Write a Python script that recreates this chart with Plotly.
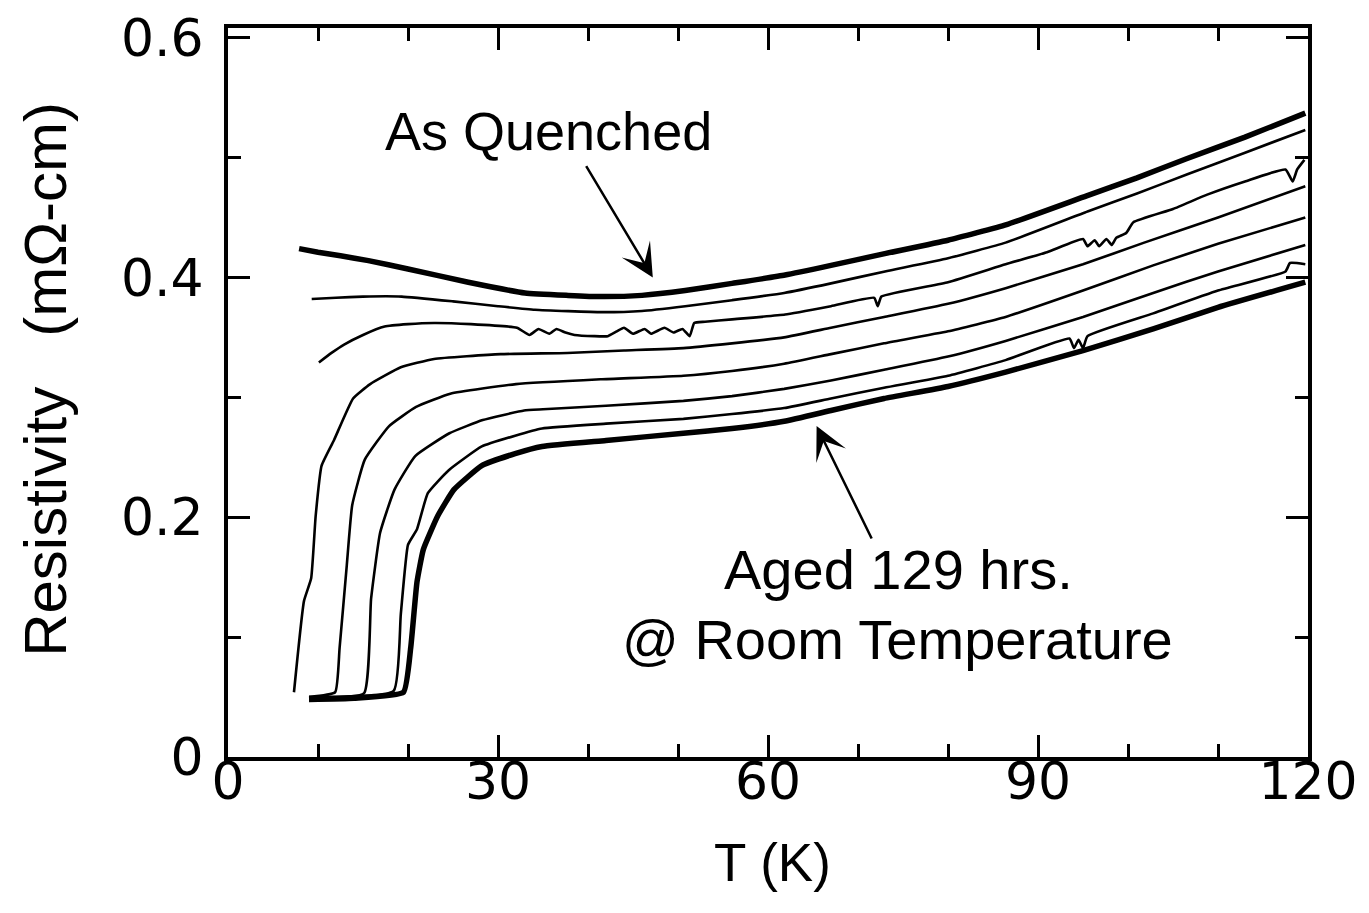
import plotly.graph_objects as go

# ---- data (T in K, resistivity in mOhm-cm) ----
T1 = [7.9, 10, 12.5, 15.6, 20, 26.7, 33.0, 37.8, 41.5, 46, 50.8, 56, 61.9, 67, 73.1, 80, 86.5, 95.4, 101, 106.5, 113, 119.7]
R1 = [0.424, 0.421, 0.418, 0.414, 0.407, 0.396, 0.387, 0.385, 0.384, 0.385, 0.389, 0.395, 0.402, 0.410, 0.420, 0.431, 0.444, 0.468, 0.483, 0.499, 0.517, 0.537]

T2 = [9.3, 12, 15, 19.3, 25, 30, 34.1, 41.5, 46, 50.8, 56, 61.8, 67, 73.0, 80, 86.4, 95.5, 101, 106.6, 113, 119.7]
R2 = [0.382, 0.383, 0.384, 0.384, 0.380, 0.376, 0.373, 0.371, 0.372, 0.376, 0.381, 0.387, 0.395, 0.405, 0.416, 0.429, 0.455, 0.470, 0.486, 0.504, 0.523]

T3 = [10.1, 11.5, 12.9, 15, 17.4, 20, 22.9, 27, 32.1, 33.5, 34.5, 35.7, 36.5, 37.5, 38.5, 40.7, 42.2,
      43.2, 44.0, 45, 46.3, 47, 48.5, 49.5, 50.5, 51.3, 51.8, 53, 56, 61.9, 67, 71.8, 72.2, 72.6, 80,
      86.4, 91, 95.0, 95.5, 96.3, 96.8, 97.6, 98.2, 98.7, 99.8, 100.6, 105, 108.8, 113, 117.5, 118.3, 118.8, 119.6]
R3 = [0.329, 0.337, 0.344, 0.352, 0.359, 0.361, 0.362, 0.361, 0.358, 0.352, 0.357, 0.353, 0.357, 0.354, 0.352, 0.351, 0.351,
      0.355, 0.358, 0.353, 0.357, 0.353, 0.358, 0.354, 0.357, 0.351, 0.362, 0.363, 0.365, 0.369, 0.376, 0.383, 0.376, 0.384, 0.396,
      0.411, 0.421, 0.432, 0.426, 0.431, 0.426, 0.432, 0.427, 0.433, 0.437, 0.446, 0.457, 0.469, 0.480, 0.490, 0.480, 0.490, 0.498]

T4 = [7.33, 8.44, 9.24, 9.74, 10.4, 11.76, 13.9, 15.8, 19.2, 22.9, 30.3, 37.7, 44, 50.6, 56, 61.8, 67, 72.9, 80, 86.4, 95, 101.8, 110, 119.7]
R4 = [0.054, 0.130, 0.149, 0.201, 0.243, 0.264, 0.299, 0.311, 0.325, 0.332, 0.336, 0.337, 0.339, 0.341, 0.345, 0.350, 0.358, 0.367, 0.378, 0.391, 0.411, 0.429, 0.450, 0.476]

T5 = [9.0, 11.9, 12.4, 13.2, 13.8, 15.2, 17.9, 20.9, 24.7, 32.0, 41.4, 50.6, 56, 61.8, 67, 72.9, 80, 86.4, 95, 102.8, 110, 119.7]
R5 = [0.050, 0.054, 0.091, 0.160, 0.210, 0.248, 0.276, 0.292, 0.303, 0.311, 0.315, 0.318, 0.322, 0.328, 0.336, 0.345, 0.355, 0.367, 0.389, 0.410, 0.428, 0.450]

T6 = [9.0, 15.1, 15.9, 16.9, 18.5, 20.8, 24.6, 28.3, 32.9, 35.0, 42, 50.6, 56, 61.8, 67, 72.9, 80, 86.4, 95, 102.8, 110, 119.7]
R6 = [0.050, 0.053, 0.132, 0.187, 0.223, 0.251, 0.270, 0.281, 0.289, 0.290, 0.293, 0.297, 0.301, 0.307, 0.314, 0.323, 0.334, 0.347, 0.367, 0.387, 0.405, 0.427]

T7 = [9.0, 18.4, 19.2, 20.0, 21.0, 22.2, 24.5, 28.2, 31.9, 34.9, 42, 50.6, 56, 61.8, 67, 72.9, 80, 86.4,
      93.5, 94.0, 94.5, 95.0, 95.5, 102.8, 110, 117.5, 118, 119.7]
R7 = [0.050, 0.055, 0.119, 0.177, 0.190, 0.220, 0.239, 0.259, 0.268, 0.274, 0.278, 0.282, 0.286, 0.291, 0.299, 0.308, 0.318, 0.331,
      0.349, 0.341, 0.348, 0.341, 0.351, 0.370, 0.389, 0.405, 0.412, 0.411]

T8 = [9.0, 14, 19.5, 20.3, 21.0, 21.7, 23.3, 25.1, 28.2, 31.9, 34.9, 42, 50.6, 56, 61.8, 67, 72.9, 80, 86.4, 95, 102.8, 110, 119.7]
R8 = [0.048, 0.049, 0.054, 0.091, 0.146, 0.173, 0.201, 0.223, 0.243, 0.253, 0.259, 0.264, 0.270, 0.274, 0.280, 0.289, 0.299, 0.309, 0.321, 0.339, 0.357, 0.375, 0.396]

x_ticks = [0, 30, 60, 90, 120]
y_ticks = [0, 0.2, 0.4, 0.6]
y_ticklabels = ["0", "0.2", "0.4", "0.6"]

curves = [(T1, R1, 5.5), (T2, R2, 2.6), (T3, R3, 2.6), (T4, R4, 2.6),
          (T5, R5, 2.6), (T6, R6, 2.6), (T7, R7, 2.6), (T8, R8, 5.5)]

FONT = "Liberation Sans, Arial, sans-serif"
TICKFONT = "DejaVu Sans, sans-serif"

fig = go.Figure()
for tx, ry, w in curves:
    fig.add_trace(go.Scatter(x=tx, y=ry, mode="lines",
                             line=dict(color="black", width=w, shape="spline", smoothing=0.4),
                             showlegend=False, hoverinfo="skip"))

axis_common = dict(showline=True, linewidth=4, linecolor="black", mirror="allticks",
                   ticks="inside", ticklen=22, tickwidth=3, tickcolor="black",
                   showgrid=False, zeroline=False, automargin=False,
                   ticklabeloverflow="allow",
                   tickfont=dict(family=TICKFONT, size=52, color="black"))

fig.update_xaxes(range=[0, 120], tickvals=x_ticks, ticklabelstandoff=-24,
                 minor=dict(dtick=10, ticklen=13, tickwidth=3, tickcolor="black", ticks="inside", showgrid=False),
                 **axis_common)
fig.update_yaxes(range=[0, 0.608], tickvals=y_ticks, ticktext=y_ticklabels, ticklabelstandoff=10,
                 minor=dict(dtick=0.1, ticklen=13, tickwidth=3, tickcolor="black", ticks="inside", showgrid=False),
                 **axis_common)

annots = [
    dict(text="As Quenched", x=35.6, y=0.522, xref="x", yref="y", showarrow=False,
         xanchor="center", yanchor="middle", font=dict(family=FONT, size=54, color="black")),
    dict(text="", x=47.2, y=0.400, ax=39.7, ay=0.494, xref="x", yref="y", axref="x", ayref="y",
         showarrow=True, arrowhead=3, arrowsize=2.2, arrowwidth=2.5, arrowcolor="black"),
    dict(text="Aged 129 hrs.", x=74.5, y=0.156, xref="x", yref="y", showarrow=False,
         xanchor="center", yanchor="middle", font=dict(family=FONT, size=56, color="black")),
    dict(text="@ Room Temperature", x=74.4, y=0.098, xref="x", yref="y", showarrow=False,
         xanchor="center", yanchor="middle", font=dict(family=FONT, size=56, color="black")),
    dict(text="", x=65.4, y=0.276, ax=71.6, ay=0.181, xref="x", yref="y", axref="x", ayref="y",
         showarrow=True, arrowhead=3, arrowsize=2.2, arrowwidth=2.5, arrowcolor="black"),
    dict(text="T (K)", x=0.5046, y=-0.1446, xref="paper", yref="paper", showarrow=False,
         xanchor="center", yanchor="middle", font=dict(family=FONT, size=53, color="black")),
    dict(text="Resistivity\u00a0\u00a0\u00a0(mΩ-cm)", x=-0.169, y=0.518, xref="paper", yref="paper",
         showarrow=False, textangle=-90, xanchor="center", yanchor="middle",
         font=dict(family=FONT, size=60, color="black")),
]
fig.update_layout(
    width=1369, height=913,
    margin=dict(l=220, r=69, t=20, b=164),
    paper_bgcolor="white", plot_bgcolor="white",
    annotations=annots,
)

fig.write_html("out.html")
